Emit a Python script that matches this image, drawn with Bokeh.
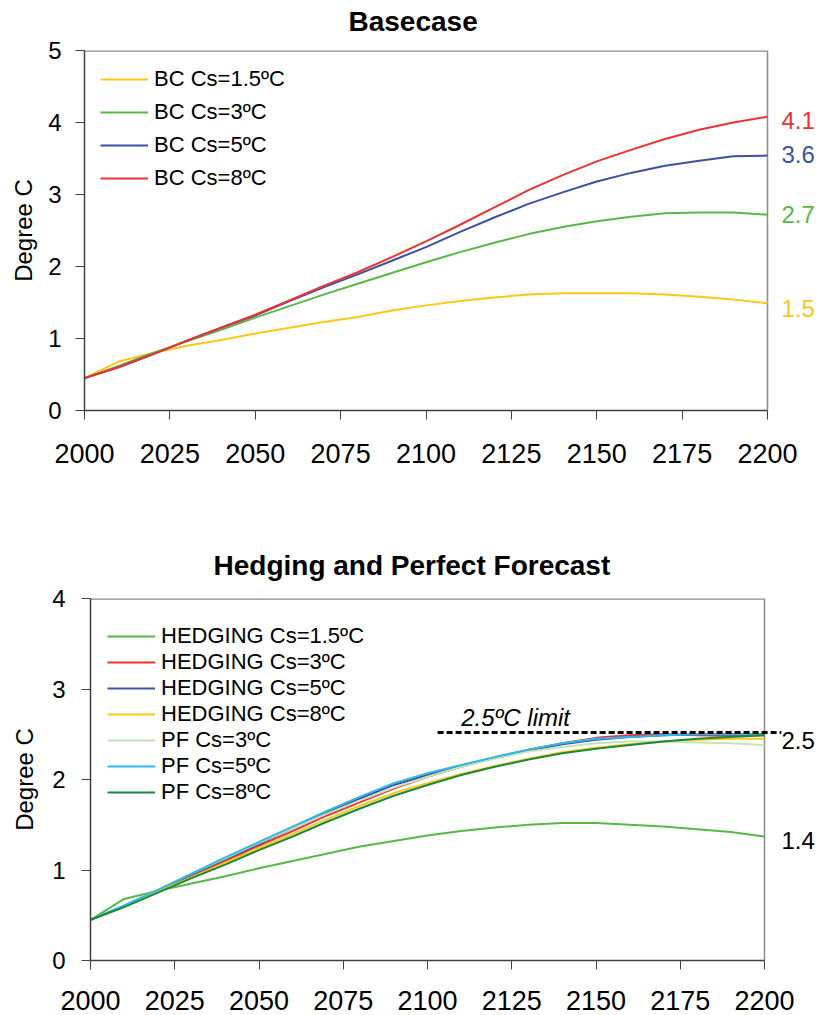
from bokeh.plotting import figure
from bokeh.models import Range1d, FixedTicker, Legend, LegendItem, Label, Title
from bokeh.embed import file_html
from bokeh.resources import INLINE

# ---------------- data ----------------
years = list(range(2000, 2201, 10))
x_ticks = list(range(2000, 2201, 25))

# Basecase
bc_15 = [0.45, 0.68, 0.80, 0.90, 0.98, 1.07, 1.15, 1.23, 1.30, 1.39, 1.46, 1.52, 1.57, 1.61, 1.63, 1.63, 1.63, 1.61, 1.58, 1.54, 1.49]
bc_3 = [0.45, 0.62, 0.80, 0.96, 1.12, 1.29, 1.45, 1.61, 1.76, 1.91, 2.06, 2.20, 2.33, 2.45, 2.55, 2.63, 2.69, 2.74, 2.75, 2.75, 2.72]
bc_5 = [0.45, 0.60, 0.78, 0.97, 1.15, 1.32, 1.52, 1.71, 1.89, 2.08, 2.27, 2.48, 2.68, 2.87, 3.03, 3.18, 3.30, 3.40, 3.47, 3.53, 3.54]
bc_8 = [0.45, 0.60, 0.78, 0.97, 1.15, 1.33, 1.53, 1.73, 1.92, 2.13, 2.35, 2.58, 2.82, 3.06, 3.27, 3.46, 3.62, 3.77, 3.90, 4.00, 4.08]
bc_labels = ["BC Cs=1.5ºC", "BC Cs=3ºC", "BC Cs=5ºC", "BC Cs=8ºC"]
bc_end_text = ["1.5", "2.7", "3.6", "4.1"]
bc_end_y = [1.42, 2.72, 3.56, 4.03]

# Hedging and Perfect Forecast
h_15 = [0.45, 0.68, 0.77, 0.85, 0.93, 1.02, 1.10, 1.18, 1.26, 1.32, 1.38, 1.43, 1.47, 1.50, 1.52, 1.52, 1.50, 1.48, 1.45, 1.42, 1.37]
h_3 = [0.45, 0.60, 0.76, 0.93, 1.10, 1.27, 1.43, 1.60, 1.75, 1.90, 2.03, 2.14, 2.24, 2.33, 2.40, 2.46, 2.49, 2.50, 2.49, 2.48, 2.49]
h_5 = [0.45, 0.60, 0.77, 0.95, 1.12, 1.29, 1.46, 1.63, 1.79, 1.94, 2.05, 2.15, 2.24, 2.32, 2.39, 2.44, 2.47, 2.49, 2.50, 2.50, 2.50]
h_8 = [0.45, 0.60, 0.76, 0.92, 1.08, 1.24, 1.40, 1.56, 1.71, 1.85, 1.96, 2.06, 2.15, 2.23, 2.30, 2.35, 2.39, 2.42, 2.44, 2.45, 2.45]
pf_3 = [0.45, 0.61, 0.78, 0.96, 1.13, 1.30, 1.46, 1.62, 1.77, 1.91, 2.03, 2.14, 2.23, 2.31, 2.36, 2.40, 2.42, 2.42, 2.41, 2.40, 2.38]
pf_5 = [0.45, 0.61, 0.78, 0.96, 1.14, 1.31, 1.48, 1.65, 1.81, 1.96, 2.07, 2.16, 2.25, 2.33, 2.40, 2.45, 2.47, 2.49, 2.50, 2.50, 2.50]
pf_8 = [0.45, 0.59, 0.75, 0.91, 1.06, 1.22, 1.37, 1.53, 1.68, 1.82, 1.94, 2.05, 2.14, 2.22, 2.29, 2.34, 2.38, 2.42, 2.45, 2.47, 2.49]
hp_labels = ["HEDGING Cs=1.5ºC", "HEDGING Cs=3ºC", "HEDGING Cs=5ºC", "HEDGING Cs=8ºC",
             "PF Cs=3ºC", "PF Cs=5ºC", "PF Cs=8ºC"]
limit_value = 2.52
limit_x = [2103, 2205]
hp_end_text = ["2.5", "1.4"]
hp_end_y = [2.43, 1.33]

# ---------------- styles ----------------
YELLOW = "#FFC61A"
GREEN = "#58B847"
BLUE = "#3953A4"
RED = "#EE3132"
LIGHT = "#C5E3B4"
CYAN = "#2FB8E8"
DARK = "#19893A"
FONT = "Liberation Sans"
BORDER = "#8c8c8c"


def style(p, ymax, x_end, tick_standoff, ylab_standoff, x_standoff):
    p.x_range = Range1d(2000, x_end)
    p.y_range = Range1d(0, ymax)
    p.xaxis.ticker = FixedTicker(ticks=x_ticks)
    p.xaxis.bounds = (2000, 2200)
    p.yaxis.ticker = FixedTicker(ticks=list(range(0, ymax + 1)))
    p.xgrid.visible = False
    p.ygrid.visible = False
    p.outline_line_color = None
    for ax in (p.xaxis, p.yaxis):
        ax.axis_line_color = "#404040"
        ax.axis_line_width = 1.5
        ax.major_tick_line_color = "#404040"
        ax.major_tick_line_width = 1
        ax.major_tick_out = 9
        ax.major_tick_in = 0
        ax.minor_tick_line_color = None
        ax.major_label_text_font = FONT
        ax.major_label_text_color = "black"
    p.xaxis.major_label_text_font_size = "27px"
    p.xaxis.major_label_standoff = x_standoff
    p.yaxis.major_label_text_font_size = "24px"
    p.yaxis.major_label_standoff = tick_standoff
    p.yaxis.axis_label = "Degree C"
    p.yaxis.axis_label_text_font = FONT
    p.yaxis.axis_label_text_font_size = "24px"
    p.yaxis.axis_label_text_font_style = "normal"
    p.yaxis.axis_label_text_color = "black"
    p.yaxis.axis_label_standoff = ylab_standoff
    # top and right border of the plot area
    p.line([2000, 2200], [ymax, ymax], line_color=BORDER, line_width=2.5)
    p.line([2200, 2200], [0, ymax], line_color=BORDER, line_width=1.5)


# ---------------- top chart ----------------
p1 = figure(width=820, height=488, output_backend="svg", toolbar_location=None,
            min_border_left=84, min_border_right=0, min_border_top=58, min_border_bottom=70,
            margin=(-8, 0, 0, 0))
style(p1, 5, 2000 + 736 / 3.415, 14, 8, 24)
p1.add_layout(Title(text="Basecase", align="left", offset=264, text_font=FONT, text_color="black",
                    text_font_size="28px", text_font_style="bold", standoff=24,
                    vertical_align="top"), "above")

bc_series = [bc_15, bc_3, bc_5, bc_8]
bc_colors = [YELLOW, GREEN, BLUE, RED]
items1 = []
for ys, c, lab in zip(bc_series, bc_colors, bc_labels):
    r = p1.line(years, ys, line_color=c, line_width=2)
    items1.append(LegendItem(label=lab, renderers=[r]))
leg1 = Legend(items=items1, location=(16, 219), glyph_width=48, glyph_height=20,
              label_standoff=6, spacing=7, padding=0, margin=0,
              label_text_font=FONT, label_text_font_size="22px", label_text_color="black",
              border_line_color=None, background_fill_alpha=0)
p1.add_layout(leg1)
for t, yv, c in zip(bc_end_text, bc_end_y, bc_colors):
    p1.add_layout(Label(x=2200, y=yv, x_offset=14, text=t, text_baseline="middle",
                        text_font=FONT, text_font_size="24px", text_color=c))

# ---------------- bottom chart ----------------
p2 = figure(width=820, height=535, output_backend="svg", toolbar_location=None,
            min_border_left=90, min_border_right=0, min_border_top=118, min_border_bottom=55)
style(p2, 4, 2000 + 730 / 3.37, 16, 11, 21)
p2.add_layout(Title(text="Hedging and Perfect Forecast", align="left", offset=123, text_font=FONT,
                    text_color="black", text_font_size="28px", text_font_style="bold", standoff=35), "above")

hp_series = [h_15, h_3, h_5, h_8, pf_3, pf_5, pf_8]
hp_colors = [GREEN, RED, BLUE, YELLOW, LIGHT, CYAN, DARK]
items2 = []
for ys, c, lab in zip(hp_series, hp_colors, hp_labels):
    r = p2.line(years, ys, line_color=c, line_width=2)
    items2.append(LegendItem(label=lab, renderers=[r]))
leg2 = Legend(items=items2, location=(17, 155), glyph_width=48, glyph_height=20,
              label_standoff=6, spacing=0, padding=0, margin=0,
              label_text_font=FONT, label_text_font_size="22px", label_text_color="black",
              border_line_color=None, background_fill_alpha=0)
p2.add_layout(leg2)

p2.line(limit_x, [limit_value, limit_value], line_color="black", line_width=3, line_dash="6 3")
p2.add_layout(Label(x=2110, y=2.68, text="2.5ºC limit", text_baseline="alphabetic",
                    text_font=FONT, text_font_size="24px", text_font_style="italic", text_color="black"))
for t, yv in zip(hp_end_text, hp_end_y):
    p2.add_layout(Label(x=2200, y=yv, x_offset=17, text=t, text_baseline="middle",
                        text_font=FONT, text_font_size="24px", text_color="black"))

open("out.html", "w").write(file_html([p1, p2], INLINE))
